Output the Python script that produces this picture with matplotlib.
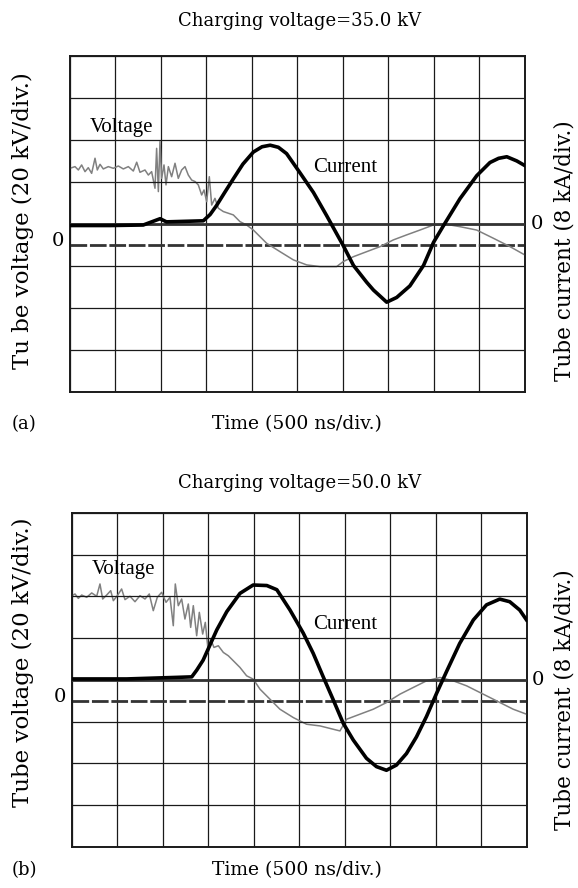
import matplotlib
matplotlib.use("Agg")
import matplotlib.pyplot as plt
import matplotlib.transforms as mtransforms

plt.rcParams["font.family"] = ["DejaVu Serif"]

# --- panel (a): charging voltage 35.0 kV ---
time_v_a = [0, 55, 92, 128, 165, 201, 238, 275, 300, 330, 366, 421, 476, 531, 586,
            641, 696, 733, 769, 824, 861, 897, 934, 952, 971, 989, 1007, 1033, 1055,
            1081, 1117, 1154, 1190, 1227, 1264, 1300, 1337, 1374, 1410, 1447, 1473,
            1502, 1531, 1557, 1593, 1630, 1685, 1740, 1795, 1868, 1941, 2015, 2161,
            2308, 2454, 2601, 2747, 2930, 3004, 3114, 3260, 3407, 3553, 3700, 3846,
            3993, 4139, 4286, 4469, 4652, 4835, 5000]
volt_a = [36.5, 37.3, 35.7, 38.1, 34.9, 36.8, 34.1, 41.3, 35.7, 38.4, 36.2, 37.3,
          36.5, 37.6, 36.2, 37.3, 35.2, 39.4, 34.6, 35.7, 33.3, 34.9, 27.0, 46.0,
          25.4, 49.2, 31.7, 38.1, 28.6, 37.3, 32.5, 38.9, 31.7, 35.7, 37.3, 33.3,
          30.9, 30.2, 28.6, 23.8, 26.2, 20.6, 32.5, 19.0, 22.2, 17.5, 15.9, 15.1,
          14.3, 11.1, 9.5, 7.1, 0.8, -3.2, -7.1, -9.5, -10.3, -10.3, -7.9, -5.6,
          -3.2, -0.8, 2.4, 4.8, 7.1, 9.5, 9.8, 8.7, 7.1, 3.2, -0.8, -4.8]

time_i_a = [0, 440, 805, 990, 1060, 1465, 1540, 1610, 1700, 1795, 1900, 2015, 2110,
            2200, 2290, 2380, 2525, 2675, 2820, 3005, 3115, 3260, 3335, 3405, 3480,
            3590, 3735, 3885, 3995, 4105, 4285, 4470, 4615, 4710, 4800, 4910, 5000]
curr_a = [-0.3, -0.3, -0.2, 1.0, 0.4, 0.6, 1.8, 3.5, 6.0, 8.6, 11.4, 13.7, 14.7,
          15.0, 14.6, 13.4, 9.8, 6.0, 1.6, -4.2, -7.9, -11.1, -12.6, -13.7, -14.9,
          -14.0, -11.8, -7.9, -3.5, -0.3, 4.8, 9.2, 11.7, 12.5, 12.8, 12.0, 11.1]

# --- panel (b): charging voltage 50.0 kV ---
time_v_b = [0, 37, 73, 110, 165, 220, 275, 311, 341, 385, 429, 458, 502, 549, 586,
            641, 696, 751, 806, 853, 897, 941, 989, 1037, 1081, 1117, 1139, 1172,
            1209, 1245, 1282, 1308, 1337, 1374, 1403, 1440, 1469, 1502, 1527, 1564,
            1612, 1667, 1722, 1777, 1850, 1923, 1996, 2070, 2143, 2289, 2436, 2582,
            2729, 2875, 2949, 3022, 3168, 3315, 3461, 3608, 3754, 3901, 4048, 4194,
            4341, 4524, 4707, 4853, 5000]
volt_b = [50.4, 51.2, 49.1, 50.7, 49.6, 51.7, 50.1, 56.0, 48.8, 50.7, 52.8, 48.0,
          50.4, 53.6, 48.5, 50.1, 47.5, 50.4, 48.8, 51.2, 43.2, 49.6, 52.0, 47.2,
          49.6, 36.0, 56.0, 45.6, 48.8, 39.2, 46.4, 35.2, 45.6, 31.2, 42.4, 32.0,
          37.6, 23.2, 29.6, 25.6, 26.4, 23.2, 21.6, 19.2, 16.0, 12.0, 10.4, 5.6,
          2.4, -4.0, -8.0, -11.2, -12.0, -13.6, -14.4, -8.8, -6.4, -4.0, -0.8, 3.2,
          6.4, 9.6, 11.2, 9.6, 7.2, 3.2, -0.8, -4.0, -6.4]

time_i_b = [0, 605, 1155, 1320, 1375, 1445, 1520, 1595, 1705, 1850, 1995, 2145, 2255,
            2400, 2545, 2655, 2765, 2875, 2985, 3095, 3240, 3350, 3460, 3570, 3680,
            3790, 3900, 4010, 4120, 4265, 4415, 4560, 4705, 4815, 4925, 5000]
curr_b = [0.2, 0.2, 0.5, 0.6, 1.9, 3.8, 6.7, 9.6, 13.1, 16.6, 18.2, 18.1, 17.3, 13.4,
          9.0, 5.1, 0.6, -3.8, -8.3, -11.5, -15.0, -16.6, -17.3, -16.3, -14.1, -10.9,
          -7.0, -2.6, 1.6, 7.0, 11.5, 14.4, 15.5, 15.0, 13.4, 11.5]

titles = ["Charging voltage=35.0 kV", "Charging voltage=50.0 kV"]
left_labels = ["Tu be voltage (20 kV/div.)", "Tube voltage (20 kV/div.)"]
panel_tags = ["(a)", "(b)"]

TIMES = ["Liberation Serif", "DejaVu Serif"]


def draw_panel(rect, tv, v, ti, cur, voltage_pos, current_pos):
    ax = fig.add_axes(rect)
    ax.set_xlim(0, 5000)
    ax.set_ylim(-70, 90)  # 20 kV/div, zero half a div below centre
    ax2 = ax.twinx()
    ax2.set_ylim(-32, 32)  # 8 kA/div
    ax.set_xticks(range(0, 5001, 500))
    ax2.set_yticks(range(-32, 33, 8))
    ax.set_yticks([])
    ax.grid(axis="x", color="0.1", lw=0.9)
    ax2.grid(axis="y", color="0.1", lw=0.9)
    for a in (ax, ax2):
        a.tick_params(length=0, labelleft=False, labelright=False, labelbottom=False)
        for s in a.spines.values():
            s.set_linewidth(1.2)
            s.set_color("0.1")
    # reference zero traces
    ax2.axhline(0, color="0.2", lw=2.0, zorder=3)
    ax.axhline(0, color="0.2", lw=2.0, ls=(0, (6, 1)), zorder=3)
    ax.plot(tv, v, color="0.5", lw=1.1, zorder=4)
    ax2.plot(ti, cur, color="black", lw=2.6, zorder=5)
    ax2.text(voltage_pos[0], voltage_pos[1], "Voltage", fontsize=15, family=TIMES,
             va="center", zorder=6)
    ax2.text(current_pos[0], current_pos[1], "Current", fontsize=15, family=TIMES,
             va="center", zorder=6)
    tl = mtransforms.blended_transform_factory(ax.transAxes, ax2.transData)
    ax2.text(-0.026, -3.2, "0", transform=tl, fontsize=14, ha="center", va="center")
    ax2.text(1.026, 0, "0", transform=tl, fontsize=14, ha="center", va="center")
    return ax


fig = plt.figure(figsize=(5.78, 8.88), dpi=100)

draw_panel([0.1211, 0.5586, 0.7872, 0.3784], time_v_a, volt_a, time_i_a, curr_a,
           (220, 18.4), (2675, 10.8))
draw_panel([0.1240, 0.0462, 0.7870, 0.3761], time_v_b, volt_b, time_i_b, curr_b,
           (220, 21.1), (2655, 10.7))

fig.text(0.519, 0.976, titles[0], fontsize=13, ha="center", va="center")
fig.text(0.519, 0.456, titles[1], fontsize=13, ha="center", va="center")
fig.text(0.514, 0.522, "Time (500 ns/div.)", fontsize=13.5, ha="center", va="center")
fig.text(0.514, 0.020, "Time (500 ns/div.)", fontsize=13.5, ha="center", va="center")
fig.text(0.02, 0.522, panel_tags[0], fontsize=13, ha="left", va="center")
fig.text(0.02, 0.020, panel_tags[1], fontsize=13, ha="left", va="center")
fig.text(0.040, 0.752, left_labels[0], fontsize=16.5, rotation=90, ha="center", va="center")
fig.text(0.040, 0.2545, left_labels[1], fontsize=16.5, rotation=90, ha="center", va="center")
fig.text(0.9775, 0.718, "Tube current (8 kA/div.)", fontsize=15.5, rotation=90,
         ha="center", va="center")
fig.text(0.9775, 0.2117, "Tube current (8 kA/div.)", fontsize=15.5, rotation=90,
         ha="center", va="center")

fig.savefig("out.png", dpi=100)
